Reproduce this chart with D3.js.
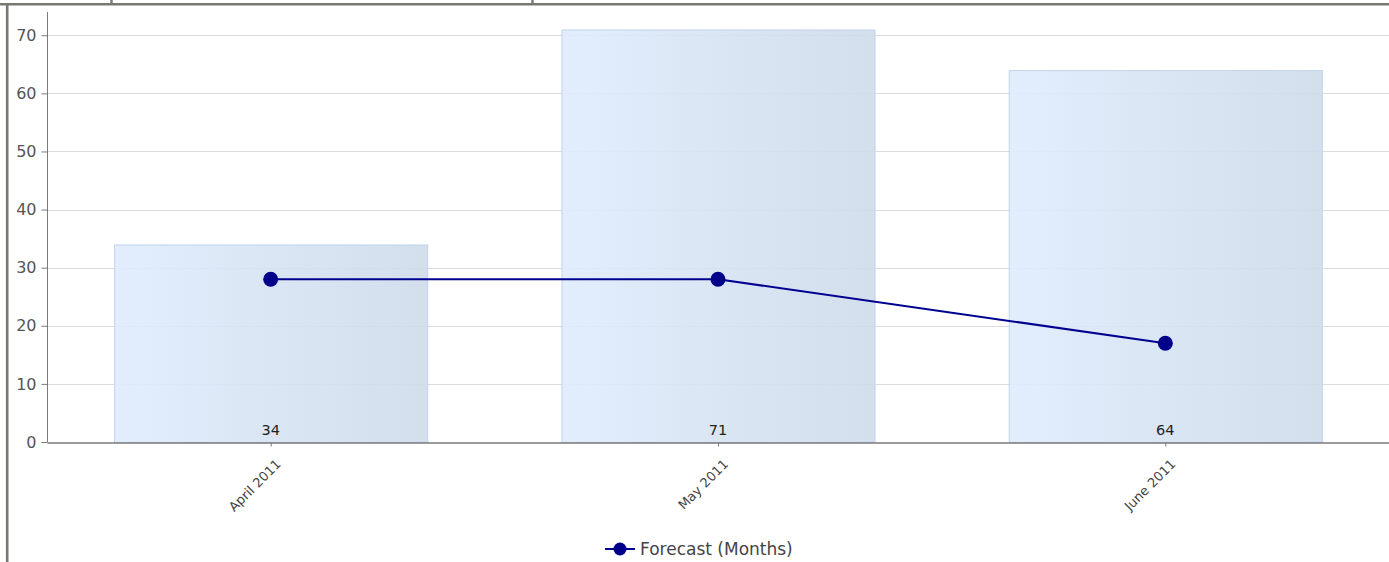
<!DOCTYPE html>
<html>
<head>
<meta charset="utf-8">
<script src="https://cdn.jsdelivr.net/npm/d3@7"></script>
<style>
  html, body { margin: 0; padding: 0; background: #fff; }
  svg { display: block; }
  text { font-family: "DejaVu Sans", Verdana, sans-serif; }
</style>
</head>
<body>
<svg id="chart" width="1389" height="562"></svg>
<script>
const categories = ["April 2011", "May 2011", "June 2011"];
const barValues = [34, 71, 64];
const lineValues = [28, 28, 17];
const yTicks = [0, 10, 20, 30, 40, 50, 60, 70];
const seriesName = "Forecast (Months)";

const W = 1389, H = 562;
const svg = d3.select("#chart");

// frame lines
svg.append("line").attr("x1", 0).attr("x2", W).attr("y1", 4.3).attr("y2", 4.3)
  .attr("stroke", "#787870").attr("stroke-width", 2.6);
svg.append("line").attr("x1", 7.2).attr("x2", 7.2).attr("y1", 3).attr("y2", H)
  .attr("stroke", "#787870").attr("stroke-width", 2.6);
[111.5, 532.5].forEach(x => {
  svg.append("line").attr("x1", x).attr("x2", x).attr("y1", 0).attr("y2", 4)
    .attr("stroke", "#787870").attr("stroke-width", 2.4);
});

const left = 47, right = W;
const x = d3.scaleBand().domain(categories).range([left, right])
  .paddingInner(0.3).paddingOuter(0.15);
const xc = d3.scalePoint().domain(categories).range([left, right]).padding(0.5);
const y = d3.scaleLinear().domain([0, 74]).range([442, 12]);

const defs = svg.append("defs");
const grad = defs.append("linearGradient").attr("id", "barGrad")
  .attr("x1", "0%").attr("x2", "100%").attr("y1", "0%").attr("y2", "0%");
grad.append("stop").attr("offset", "0%").attr("stop-color", "#dfebfd");
grad.append("stop").attr("offset", "100%").attr("stop-color", "#cfdbea");

// gridlines
svg.append("g").selectAll("line").data(yTicks.filter(d => d > 0)).join("line")
  .attr("x1", left).attr("x2", right)
  .attr("y1", d => Math.round(y(d)) + 0.5).attr("y2", d => Math.round(y(d)) + 0.5)
  .attr("stroke", "#dcdcdc").attr("stroke-width", 1);

// bars
svg.append("g").selectAll("rect").data(categories).join("rect")
  .attr("x", d => x(d) + 0.5)
  .attr("y", (d, i) => y(barValues[i]) + 0.5)
  .attr("width", x.bandwidth())
  .attr("height", (d, i) => y(0) - y(barValues[i]))
  .attr("fill", "url(#barGrad)")
  .attr("fill-opacity", 0.9)
  .attr("stroke", "#c3d3ec").attr("stroke-width", 1);

// bar value labels
svg.append("g").selectAll("text").data(categories).join("text")
  .attr("x", d => xc(d)).attr("y", 435)
  .attr("text-anchor", "middle")
  .style("font-size", "14.5px").attr("fill", "#222")
  .text((d, i) => barValues[i]);

// y axis
const yAxis = d3.axisLeft(y).tickValues(yTicks).tickSize(6).tickPadding(5).tickSizeOuter(0);
const gy = svg.append("g").attr("transform", `translate(${left + 0.5},0)`).call(yAxis);
gy.attr("font-family", null).attr("font-size", null);
gy.select(".domain").attr("stroke", "#7a7a7a").attr("d", `M0,12V${y(0)}`);
gy.selectAll(".tick line").attr("stroke", "#7a7a7a");
gy.selectAll(".tick text").style("font-size", "16px").attr("fill", "#555");

// x axis
const xAxis = d3.axisBottom(xc).tickSize(4).tickSizeOuter(0).tickFormat(() => "");
const gx = svg.append("g").attr("transform", `translate(0,${y(0) + 0.5})`).call(xAxis);
gx.select(".domain").attr("stroke", "#7a7a7a").attr("stroke-width", 1.5);
gx.selectAll(".tick line").attr("stroke", "#7a7a7a");

svg.append("g").selectAll("text").data(categories).join("text")
  .attr("transform", d => `translate(${xc(d) + 11},465) rotate(-45)`)
  .attr("text-anchor", "end")
  .style("font-size", "13px").attr("fill", "#444")
  .text(d => d);

// line series
const line = d3.line().x(d => xc(d.c)).y(d => y(d.v));
const pts = categories.map((c, i) => ({ c, v: lineValues[i] }));
svg.append("path").datum(pts).attr("d", line)
  .attr("fill", "none").attr("stroke", "#000090").attr("stroke-width", 2);
svg.append("g").selectAll("circle").data(pts).join("circle")
  .attr("cx", d => xc(d.c)).attr("cy", d => y(d.v)).attr("r", 7.5)
  .attr("fill", "#00008b");

// legend
const lg = svg.append("g").attr("transform", "translate(605,549)");
lg.append("line").attr("x1", 0).attr("x2", 30).attr("y1", 0).attr("y2", 0)
  .attr("stroke", "#000090").attr("stroke-width", 2);
lg.append("circle").attr("cx", 15).attr("cy", 0).attr("r", 6.5).attr("fill", "#00008b");
lg.append("text").attr("x", 35).attr("y", 6).style("font-size", "17px").attr("fill", "#444")
  .text(seriesName);
</script>
</body>
</html>
